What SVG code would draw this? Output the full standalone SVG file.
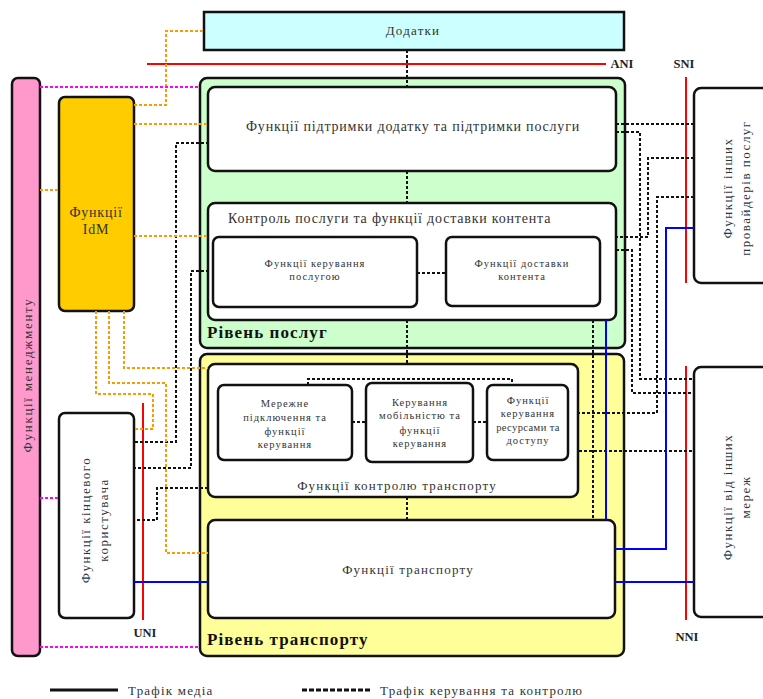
<svg xmlns="http://www.w3.org/2000/svg" width="763" height="699" viewBox="0 0 763 699">
<style>
.box{stroke:#111;stroke-width:2.5;fill:#fff}
.t{font-family:"Liberation Serif","Times New Roman",serif;fill:#333;text-anchor:middle}
.s14{font-size:14px;letter-spacing:0.8px}
.s13{font-size:13px;letter-spacing:1.2px}
.s11{font-size:10.5px;letter-spacing:1px}
.rot{letter-spacing:1.5px}
.lbl{font-family:"Liberation Serif",serif;font-weight:bold;fill:#111;font-size:17px;letter-spacing:1.1px}
.ifc{font-family:"Liberation Serif",serif;font-weight:bold;fill:#222;font-size:12.5px;text-anchor:middle}
.ctl{fill:none;stroke:#111;stroke-width:2;stroke-dasharray:3 2}
.org{fill:none;stroke:#ff9900;stroke-width:2;stroke-dasharray:3 2}
.mag{fill:none;stroke:#ff00ff;stroke-width:2;stroke-dasharray:3 2}
.med{fill:none;stroke:#0000ff;stroke-width:2}
.red{fill:none;stroke:#ff0000;stroke-width:2}
</style>
<rect width="763" height="699" fill="#fff"/>

<g id="n-service-layer">
<rect x="200" y="78" width="425" height="270" rx="7" class="box" style="fill:#ccffcc"/>
<text x="207" y="338" class="lbl">Рівень послуг</text>
</g>
<g id="n-transport-layer">
<rect x="200" y="354" width="424" height="302" rx="7" class="box" style="fill:#ffff99"/>
<text x="207" y="645" class="lbl">Рівень транспорту</text>
</g>

<g id="n-dodatky">
<rect x="204" y="12" width="420" height="38" class="box" style="fill:#ccffff"/>
<text x="413" y="35" class="t s13">Додатки</text>
</g>
<g id="n-management">
<rect x="12" y="78" width="28" height="578" rx="6" class="box" style="fill:#ff99cc"/>
<text x="32" y="375" transform="rotate(-90 32 375)" class="t s13" style="letter-spacing:1.7px">Функції менеджменту</text>
</g>
<g id="n-idm">
<rect x="59" y="97" width="75" height="214" rx="6" class="box" style="fill:#ffcc00"/>
<text x="96" y="217" class="t s14">Функції</text>
<text x="96" y="234" class="t s14">IdM</text>
</g>
<g id="n-enduser">
<rect x="59" y="413" width="75" height="205" rx="6" class="box"/>
<text x="90" y="520" transform="rotate(-90 90 520)" class="t s13 rot">Функції кінцевого</text>
<text x="108" y="520" transform="rotate(-90 108 520)" class="t s13 rot">користувача</text>
</g>
<g id="n-app-support">
<rect x="208" y="87" width="408" height="84" rx="7" class="box"/>
<text x="413" y="131" class="t s14">Функції підтримки додатку та підтримки послуги</text>
</g>
<g id="n-service-control">
<rect x="208" y="203" width="408" height="117" rx="7" class="box"/>
<text x="228" y="223" class="t s14" style="text-anchor:start">Контроль послуги та функції доставки контента</text>
</g>
<g id="n-service-mgmt">
<rect x="213" y="237" width="204" height="70" rx="6" class="box"/>
<text x="315" y="267" class="t s11">Функції керування</text>
<text x="315" y="280" class="t s11">послугою</text>
</g>
<g id="n-content-delivery">
<rect x="446" y="237" width="154" height="69" rx="6" class="box"/>
<text x="522" y="267" class="t s11">Функції доставки</text>
<text x="522" y="280" class="t s11">контента</text>
</g>
<g id="n-transport-control">
<rect x="208" y="364" width="370" height="133" rx="7" class="box"/>
<text x="397" y="490" class="t s13">Функції контролю транспорту</text>
</g>
<g id="n-net-attach">
<rect x="218" y="385" width="134" height="75" rx="6" class="box"/>
<text x="285" y="407" class="t s11">Мережне</text>
<text x="285" y="421" class="t s11">підключення та</text>
<text x="285" y="435" class="t s11">функції</text>
<text x="285" y="448" class="t s11">керування</text>
</g>
<g id="n-mobility">
<rect x="366" y="383" width="107" height="79" rx="6" class="box"/>
<text x="420" y="406" class="t s11">Керування</text>
<text x="420" y="419" class="t s11">мобільністю та</text>
<text x="420" y="434" class="t s11">функції</text>
<text x="420" y="447" class="t s11">керування</text>
</g>
<g id="n-resource">
<rect x="487" y="385" width="81" height="75" rx="6" class="box"/>
<text x="528" y="404" class="t s11">Функції</text>
<text x="528" y="417" class="t s11">керування</text>
<text x="528" y="431" class="t s11" style="letter-spacing:0.4px">ресурсами та</text>
<text x="528" y="444" class="t s11">доступу</text>
</g>
<g id="n-transport">
<rect x="208" y="520" width="407" height="98" rx="7" class="box"/>
<text x="408" y="574" class="t s13">Функції транспорту</text>
</g>
<g id="n-other-providers">
<rect x="694" y="88" width="90" height="195" rx="7" class="box"/>
<text x="732" y="188" transform="rotate(-90 732 188)" class="t s13 rot">Функції інших</text>
<text x="750" y="188" transform="rotate(-90 750 188)" class="t s13 rot">провайдерів послуг</text>
</g>
<g id="n-other-networks">
<rect x="694" y="367" width="90" height="250" rx="7" class="box"/>
<text x="732" y="497" transform="rotate(-90 732 497)" class="t s13 rot">Функції від інших</text>
<text x="750" y="497" transform="rotate(-90 750 497)" class="t s13 rot">мереж</text>
</g>

<g id="interfaces">
<path class="red" d="M147 64H606"/>
<path class="red" d="M686 77V283"/>
<path class="red" d="M143 403V620"/>
<path class="red" d="M686 366V620"/>
<text x="622" y="68" class="ifc">ANI</text>
<text x="684" y="68" class="ifc">SNI</text>
<text x="145" y="637" class="ifc">UNI</text>
<text x="687" y="641" class="ifc">NNI</text>
</g>

<g id="connectors">
<path class="ctl" d="M407 50V87M407 171V203M407 320V364M407 497V520M417 273H446M352 422H366M473 422H487M308 385V379H512V385"/>
<path class="ctl" d="M209 143H176V442H134M209 271H191V468H134M208 488H157V520H134"/>
<path class="ctl" d="M616 124H694M616 132H640V379H694M694 158H648V237H616M694 197H657V413H579M616 250H632V393H694M579 451H694M593 320V520"/>
<path class="org" d="M134 105H166V31H204M134 124H208M40 190H59M134 236H208M124 311V368H208M109 311V383H166V553H208M96 311V394H153V429H134"/>
<path class="mag" d="M40 87H200M40 498H59M40 647H200"/>
<path class="med" d="M606 320V520M615 549H666V228H694M615 582H694M134 582H208"/>
</g>

<g id="legend">
<path d="M50 690H118" stroke="#111" stroke-width="3"/>
<text x="128" y="695" class="t s13" style="text-anchor:start">Трафік медіа</text>
<path d="M302 690H372" stroke="#111" stroke-width="3" stroke-dasharray="5 2"/>
<text x="380" y="695" class="t s13" style="text-anchor:start">Трафік керування та контролю</text>
</g>
</svg>
